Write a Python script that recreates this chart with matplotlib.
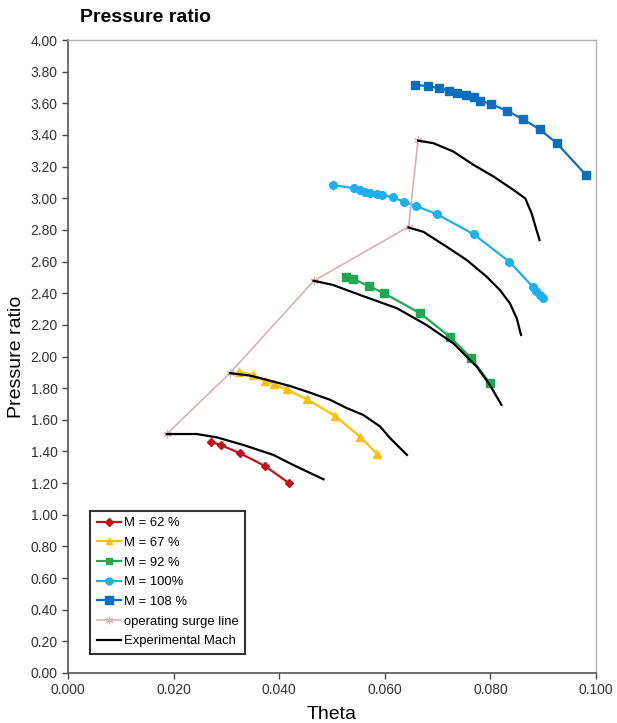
import matplotlib
matplotlib.use("Agg")
import matplotlib.pyplot as plt
from matplotlib.ticker import MultipleLocator, FormatStrFormatter

plt.rcParams['font.family'] = ['Liberation Sans', 'DejaVu Sans']

# ---- data ----
m62_x = [0.0270, 0.0289, 0.0326, 0.0373, 0.0419]
m62_y = [1.462, 1.441, 1.388, 1.308, 1.199]

m67_x = [0.0323, 0.0351, 0.0373, 0.0390, 0.0414, 0.0452, 0.0506, 0.0553, 0.0586]
m67_y = [1.904, 1.883, 1.847, 1.826, 1.793, 1.730, 1.624, 1.493, 1.382]

m92_x = [0.0527, 0.0540, 0.0570, 0.0599, 0.0667, 0.0723, 0.0763, 0.0799]
m92_y = [2.504, 2.490, 2.445, 2.399, 2.273, 2.125, 1.993, 1.831]

m100_x = [0.0501, 0.0542, 0.0553, 0.0562, 0.0572, 0.0585, 0.0594, 0.0616, 0.0636,
          0.0659, 0.0699, 0.0768, 0.0836, 0.0880, 0.0886, 0.0894, 0.0899]
m100_y = [3.084, 3.063, 3.052, 3.041, 3.031, 3.027, 3.021, 3.006, 2.978,
          2.951, 2.899, 2.773, 2.599, 2.441, 2.414, 2.389, 2.368]

m108_x = [0.0657, 0.0682, 0.0703, 0.0722, 0.0737, 0.0754, 0.0769, 0.0780, 0.0801,
          0.0831, 0.0862, 0.0893, 0.0926, 0.0981]
m108_y = [3.716, 3.709, 3.695, 3.680, 3.667, 3.653, 3.638, 3.617, 3.596,
          3.553, 3.499, 3.436, 3.347, 3.147]

surge_x = [0.0187, 0.0307, 0.0465, 0.0645, 0.0663]
surge_y = [1.510, 1.896, 2.477, 2.820, 3.368]

exp62_x = [0.0187, 0.0244, 0.0282, 0.0332, 0.0389, 0.0433, 0.0484]
exp62_y = [1.510, 1.510, 1.489, 1.441, 1.378, 1.304, 1.224]

exp67_x = [0.0307, 0.0345, 0.0376, 0.0420, 0.0458, 0.0496, 0.0528, 0.0559, 0.0591, 0.0610, 0.0642]
exp67_y = [1.895, 1.879, 1.853, 1.814, 1.772, 1.727, 1.674, 1.631, 1.558, 1.484, 1.378]

exp92_x = [0.0465, 0.0502, 0.0553, 0.0623, 0.0679, 0.0730, 0.0774, 0.0799, 0.0821]
exp92_y = [2.479, 2.452, 2.389, 2.305, 2.199, 2.083, 1.936, 1.820, 1.694]

exp100_x = [0.0645, 0.0673, 0.0717, 0.0755, 0.0793, 0.0818, 0.0837, 0.0850, 0.0858]
exp100_y = [2.815, 2.788, 2.694, 2.610, 2.504, 2.420, 2.336, 2.240, 2.136]

exp108_x = [0.0663, 0.0692, 0.0730, 0.0768, 0.0806, 0.0844, 0.0866, 0.0878, 0.0893]
exp108_y = [3.364, 3.348, 3.295, 3.211, 3.137, 3.052, 2.999, 2.905, 2.736]

labels = ["M = 62 %", "M = 67 %", "M = 92 %", "M = 100%", "M = 108 %",
          "operating surge line", "Experimental Mach"]

# ---- figure ----
fig = plt.figure(figsize=(6.17, 7.23), dpi=100)
ax = fig.add_axes([68/617, 1 - 673/723, 528/617, 633/723])

ax.plot(m62_x, m62_y, color='#C0141C', lw=1.6, marker='D', ms=4.5, label=labels[0])
ax.plot(m67_x, m67_y, color='#FFC000', lw=1.6, marker='^', ms=5.5, label=labels[1])
ax.plot(m92_x, m92_y, color='#1FA84F', lw=1.6, marker='s', ms=5.5, label=labels[2])
ax.plot(m100_x, m100_y, color='#1CB0EC', lw=1.6, marker='o', ms=5.5, label=labels[3])
ax.plot(m108_x, m108_y, color='#0A6EBD', lw=1.6, marker='s', ms=6, label=labels[4])
ax.plot(surge_x, surge_y, color='#D5B4B4', lw=1.2, marker=(6, 2, 0), ms=6, mew=0.8, label=labels[5])
ax.plot(exp62_x, exp62_y, color='black', lw=1.6, label=labels[6])
for ex, ey in [(exp67_x, exp67_y), (exp92_x, exp92_y), (exp100_x, exp100_y), (exp108_x, exp108_y)]:
    ax.plot(ex, ey, color='black', lw=1.6)

ax.set_xlim(0, 0.1)
ax.set_ylim(0, 4.0)
ax.xaxis.set_major_locator(MultipleLocator(0.02))
ax.yaxis.set_major_locator(MultipleLocator(0.2))
ax.xaxis.set_major_formatter(FormatStrFormatter('%.3f'))
ax.yaxis.set_major_formatter(FormatStrFormatter('%.2f'))
ax.tick_params(direction='out', length=4, width=1, labelsize=10, colors='#444444')
ax.tick_params(axis='both', labelcolor='#333333')

for s in ['left', 'bottom']:
    ax.spines[s].set_color('#555555')
    ax.spines[s].set_linewidth(1.2)
for s in ['top', 'right']:
    ax.spines[s].set_color('#B0B0B0')
    ax.spines[s].set_linewidth(1.0)

ax.set_xlabel('Theta', fontsize=14, labelpad=6)
ax.set_ylabel('Pressure ratio', fontsize=14, labelpad=4)

fig.text(80/617, 1 - 18/723, 'Pressure ratio', fontsize=14, fontweight='bold',
         ha='left', va='center')

leg = ax.legend(loc='lower left', bbox_to_anchor=((90-68)/528, (673-654)/633),
                fontsize=9.4, frameon=True, fancybox=False, edgecolor='black',
                handlelength=1.9, handletextpad=0.2, labelspacing=0.58,
                borderpad=0.5, borderaxespad=0.0, markerscale=0.9)
leg.get_frame().set_linewidth(1.5)

fig.savefig('out.png', dpi=100)
